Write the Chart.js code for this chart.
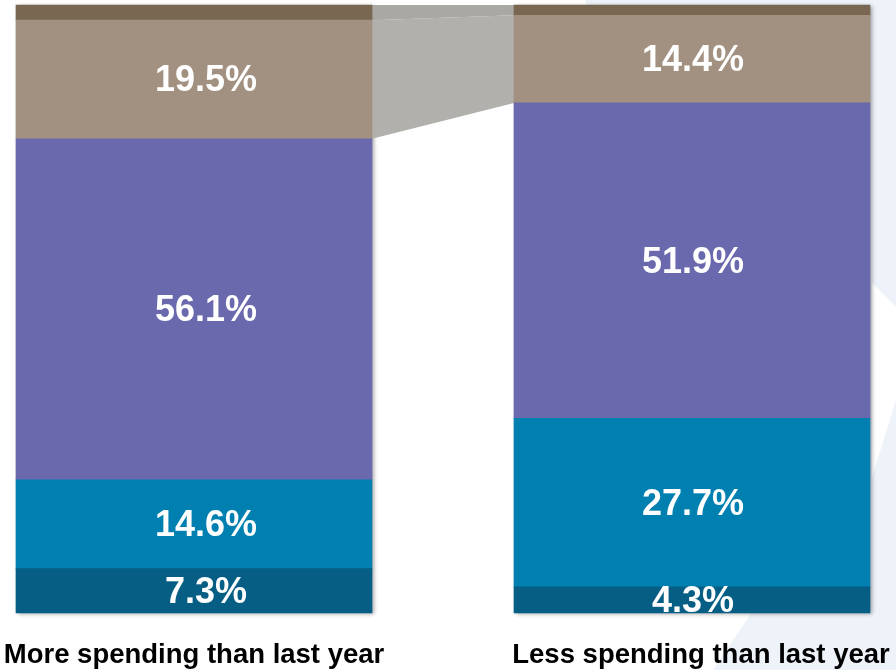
<!DOCTYPE html>
<html>
<head>
<meta charset="utf-8">
<script src="https://cdn.jsdelivr.net/npm/chart.js@4.4.1/dist/chart.umd.min.js"></script>
<style>
    html, body { margin: 0; padding: 0; background: #fff; }
    #wrap { width: 896px; height: 670px; }
</style>
</head>
<body>
<div id="wrap"><canvas id="spendChart" width="896" height="670"></canvas></div>
<script>
// categories and stacked shares (bottom segment first), in percent
const categories = ['More spending than last year', 'Less spending than last year'];
const darkTealShare = [7.3, 4.3];
const tealShare = [14.6, 27.7];
const purpleShare = [56.1, 51.9];
const taupeShare = [19.5, 14.4];
const brownShare = [2.5, 1.7];

const segmentColors = ['#065e84', '#0080b0', '#6a69ae', '#a29181', '#7a6752'];
// segments joined by the grey band between the two bars
const linkedSegments = [3, 4];
const linkColors = { 3: '#b1b0ad', 4: '#aaa8a5' };
const minLabelValue = 4;
// small horizontal nudges: value labels, then category names
const labelNudgeX = [12, 1];
const categoryNudgeX = [0, 9];

const FONT = "'Liberation Sans', Arial, sans-serif";

/** light background shapes behind the chart */
const backdropPlugin = {
    id: 'backdrop',
    beforeDraw(chart) {
        const { ctx, width, height } = chart;
        ctx.save();
        ctx.fillStyle = '#ffffff';
        ctx.fillRect(0, 0, width, height);

        ctx.fillStyle = '#eef3fa';
        ctx.beginPath();
        ctx.moveTo(585, 0);
        ctx.lineTo(width, 0);
        ctx.lineTo(width, height);
        ctx.lineTo(713, height);
        ctx.lineTo(752, 612);
        ctx.lineTo(700, 300);
        ctx.closePath();
        ctx.fill();

        ctx.fillStyle = '#ffffff';
        ctx.beginPath();
        ctx.moveTo(872, 283);
        ctx.lineTo(width, 307);
        ctx.lineTo(width, 400);
        ctx.lineTo(872, 477);
        ctx.closePath();
        ctx.fill();
        ctx.restore();
    },
};

/** grey band linking top segments + soft bar shadow */
const linkPlugin = {
    id: 'linkBand',
    beforeDatasetsDraw(chart) {
        const { ctx } = chart;
        const first = chart.getDatasetMeta(0).data;
        const last = chart.getDatasetMeta(chart.data.datasets.length - 1).data;

        ctx.save();
        // shadow behind each full bar
        ctx.shadowColor = 'rgba(0, 0, 0, 0.35)';
        ctx.shadowBlur = 4;
        ctx.shadowOffsetX = 2;
        ctx.shadowOffsetY = 1;
        ctx.fillStyle = '#888';
        first.forEach((bar, i) => {
            const top = last[i].y;
            ctx.fillRect(bar.x - bar.width / 2, top, bar.width, bar.base - top);
        });
        ctx.restore();

        ctx.save();
        linkedSegments.forEach((dsIndex) => {
            const [left, right] = chart.getDatasetMeta(dsIndex).data;
            const lx = left.x + left.width / 2;
            const rx = right.x - right.width / 2;
            ctx.fillStyle = linkColors[dsIndex];
            ctx.beginPath();
            ctx.moveTo(lx, left.y);
            ctx.lineTo(rx, right.y);
            ctx.lineTo(rx, right.base);
            ctx.lineTo(lx, left.base);
            ctx.closePath();
            ctx.fill();
        });
        ctx.restore();
    },
};

/** value labels inside segments and category names below bars */
const labelPlugin = {
    id: 'segmentLabels',
    afterDatasetsDraw(chart) {
        const { ctx } = chart;
        ctx.save();
        ctx.fillStyle = '#ffffff';
        ctx.font = `bold 36px ${FONT}`;
        ctx.textAlign = 'center';
        ctx.textBaseline = 'middle';
        chart.data.datasets.forEach((ds, dsIndex) => {
            chart.getDatasetMeta(dsIndex).data.forEach((bar, i) => {
                const value = ds.data[i];
                if (value < minLabelValue) {
                    return;
                }
                ctx.fillText(`${value.toFixed(1)}%`, bar.x + labelNudgeX[i], (bar.y + bar.base) / 2 + 2);
            });
        });

        ctx.fillStyle = '#000000';
        ctx.font = `bold 27.5px ${FONT}`;
        ctx.textBaseline = 'alphabetic';
        const xScale = chart.scales.x;
        categories.forEach((name, i) => {
            ctx.fillText(name, xScale.getPixelForValue(i) + categoryNudgeX[i], 663);
        });
        ctx.restore();
    },
};

const shares = [darkTealShare, tealShare, purpleShare, taupeShare, brownShare];

new Chart(document.getElementById('spendChart'), {
    type: 'bar',
    data: {
        labels: categories,
        datasets: shares.map((values, i) => ({
            data: values,
            backgroundColor: segmentColors[i],
            borderWidth: 0,
            barThickness: 356,
            clip: false,
        })),
    },
    options: {
        responsive: false,
        animation: false,
        layout: { padding: { left: 194, right: 204, top: 5, bottom: 57 } },
        plugins: {
            legend: { display: false },
            tooltip: { enabled: false },
        },
        scales: {
            x: { display: false, stacked: true, offset: false },
            y: { display: false, stacked: true, min: 0, max: 100 },
        },
    },
    plugins: [backdropPlugin, linkPlugin, labelPlugin],
});
</script>
</body>
</html>
